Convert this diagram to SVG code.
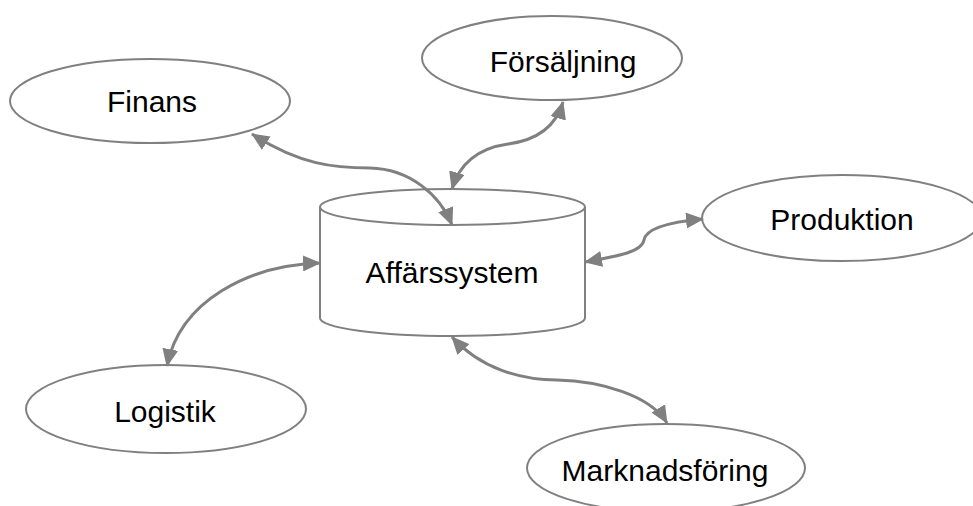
<svg xmlns="http://www.w3.org/2000/svg" width="973" height="506" viewBox="0 0 973 506">
  <style>
    .shape { fill: #ffffff; stroke: #808080; stroke-width: 2; }
    .label { font-family: "Liberation Sans", Arial, sans-serif; font-size: 30px; fill: #000000; text-anchor: middle; }
    .link { fill: none; stroke: #808080; stroke-width: 3; marker-start: url(#head); marker-end: url(#head); }
  </style>
  <defs>
    <marker id="head" viewBox="0 0 18 16" refX="17" refY="8" markerWidth="18" markerHeight="16" markerUnits="userSpaceOnUse" orient="auto-start-reverse">
      <path d="M0,0 L18,8 L0,16 Z" fill="#808080"/>
    </marker>
  </defs>
  <rect width="973" height="506" fill="#ffffff"/>

  <g id="finans">
    <ellipse class="shape" cx="150" cy="101" rx="140" ry="42"/>
    <text class="label" x="152" y="112">Finans</text>
  </g>
  <g id="forsaljning">
    <ellipse class="shape" cx="552" cy="58" rx="130" ry="42"/>
    <text class="label" x="563" y="72">Försäljning</text>
  </g>
  <g id="produktion">
    <ellipse class="shape" cx="842" cy="218" rx="140" ry="43"/>
    <text class="label" x="842" y="230">Produktion</text>
  </g>
  <g id="logistik">
    <ellipse class="shape" cx="166" cy="409" rx="140" ry="44"/>
    <text class="label" x="165" y="422">Logistik</text>
  </g>
  <g id="marknadsforing">
    <ellipse class="shape" cx="666" cy="468" rx="139" ry="44"/>
    <text class="label" x="665" y="481">Marknadsföring</text>
  </g>
  <g id="affarssystem">
    <path class="shape" d="M320,207 L320,318 A132.5,18 0 0 0 585,318 L585,207"/>
    <ellipse class="shape" cx="452.5" cy="207" rx="132.5" ry="18"/>
    <text class="label" x="452" y="283">Affärssystem</text>
  </g>

  <g id="connectors">
    <path class="link" d="M252,134 C300,165 335,168 370,168 C410,169 440,195 452,225"/>
    <path class="link" d="M452,189 C460,162 480,148 508,144 C538,140 556,126 563,102"/>
    <path class="link" d="M585,262 C618,256 642,252 644,240 C646,228 670,222 703,219"/>
    <path class="link" d="M320,263 C250,265 180,300 167,366"/>
    <path class="link" d="M452,337 C480,368 520,380 557,380 C600,381 650,395 667,423"/>
  </g>
</svg>
